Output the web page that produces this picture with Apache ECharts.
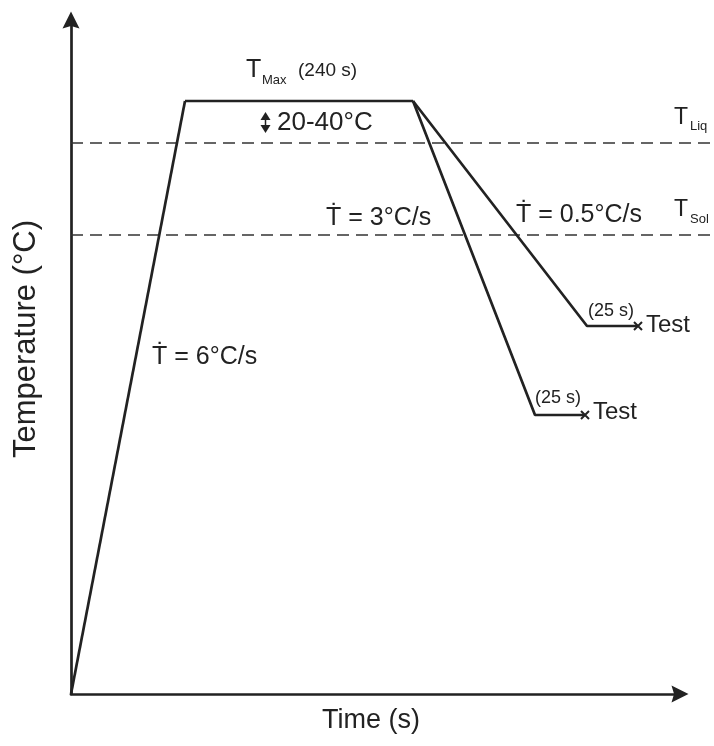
<!DOCTYPE html>
<html>
<head>
<meta charset="utf-8">
<script src="https://cdn.jsdelivr.net/npm/echarts@6/dist/echarts.min.js"></script>
<style>
  html, body { margin: 0; padding: 0; background: #fff; }
  #chart { width: 714px; height: 746px; }
</style>
</head>
<body>
<div id="chart"></div>
<script>
// Schematic thermal cycle (arbitrary time / temperature units, no ticks)
const rampUp   = [[0, 0], [114, 593]];              // heating at 6 °C/s
const holdMax  = [[114, 593], [342, 593]];          // hold at T_Max (240 s)
const coolFast = [[342, 593], [464, 279], [514, 279]]; // 3 °C/s then 25 s hold
const coolSlow = [[342, 593], [516, 368], [567, 368]]; // 0.5 °C/s then 25 s hold
const tLiq = 551;
const tSol = 459;
const xMax = 609;   // end of the drawn time axis
const xEnd = 643;   // reference lines run on to the edge
const yMax = 674;

const INK = '#222';
const FONT = '"Liberation Sans", Arial, sans-serif';
const crossMark = 'path://M0,0L10,10M10,0L0,10';
const arrowHead = 'path://M0,10L5,0L10,10L5,8.5Z';

function withEndMark(points) {
  return points.map((p, i) => i === points.length - 1
    ? { value: p, symbol: crossMark, symbolSize: 8,
        itemStyle: { color: 'none', borderColor: INK, borderWidth: 2 } }
    : { value: p, symbol: 'none' });
}

const solid = { color: INK, width: 2.7 };
const dashed = { color: '#333', width: 1.5, type: [12, 7] };

function txt(text, x, y, size, extra) {
  return {
    type: 'text', silent: true,
    style: Object.assign({
      text, x, y, fill: INK,
      font: size + 'px ' + FONT,
      align: 'left', verticalAlign: 'middle'
    }, extra || {})
  };
}

const hiddenAxis = { show: false };

const chart = echarts.init(document.getElementById('chart'));
chart.setOption({
  animation: false,
  backgroundColor: '#fff',
  grid: [
    { left: 71, right: 34, top: 20, bottom: 52 },
    { left: 71, right: 0, top: 20, bottom: 52 }
  ],
  xAxis: [
    {
      type: 'value', min: 0, max: xMax, gridIndex: 0,
      axisLine: { show: true, lineStyle: { color: INK, width: 2.7 },
        symbol: ['none', arrowHead], symbolSize: [17, 20] },
      axisTick: { show: false }, axisLabel: { show: false }, splitLine: { show: false }
    },
    Object.assign({ type: 'value', min: 0, max: xEnd, gridIndex: 1 }, hiddenAxis)
  ],
  yAxis: [
    {
      type: 'value', min: 0, max: yMax, gridIndex: 0,
      axisLine: { show: true, lineStyle: { color: INK, width: 2.7 },
        symbol: ['none', arrowHead], symbolSize: [17, 20] },
      axisTick: { show: false }, axisLabel: { show: false }, splitLine: { show: false }
    },
    Object.assign({ type: 'value', min: 0, max: yMax, gridIndex: 1 }, hiddenAxis)
  ],
  series: [
    { type: 'line', xAxisIndex: 1, yAxisIndex: 1, data: [[0, tLiq], [xEnd, tLiq]], symbol: 'none', lineStyle: dashed },
    { type: 'line', xAxisIndex: 1, yAxisIndex: 1, data: [[0, tSol], [xEnd, tSol]], symbol: 'none', lineStyle: dashed },
    { type: 'line', data: rampUp, symbol: 'none', lineStyle: solid },
    { type: 'line', data: holdMax, symbol: 'none', lineStyle: solid },
    { type: 'line', data: withEndMark(coolFast), showSymbol: true, clip: false, lineStyle: solid },
    { type: 'line', data: withEndMark(coolSlow), showSymbol: true, clip: false, lineStyle: solid }
  ],
  graphic: [
    // axis titles
    txt('Time (s)', 371, 721, 27, { align: 'center' }),
    { type: 'text', silent: true, x: 26, y: 339, rotation: Math.PI / 2,
      style: { text: 'Temperature (°C)', fill: INK, font: '31px ' + FONT,
               align: 'center', verticalAlign: 'middle' } },
    // T_Max (240 s)
    txt('T', 246, 70, 25),
    txt('Max', 262, 80, 13),
    txt('(240 s)', 298, 71, 19),
    // 20-40 °C band marker
    { type: 'polygon', silent: true, shape: { points: [[260.5, 120], [265.5, 112], [270.5, 120]] }, style: { fill: INK } },
    { type: 'polygon', silent: true, shape: { points: [[260.5, 125], [265.5, 133], [270.5, 125]] }, style: { fill: INK } },
    { type: 'line', silent: true, shape: { x1: 265.5, y1: 119, x2: 265.5, y2: 126 }, style: { stroke: INK, lineWidth: 1.5 } },
    txt('20-40°C', 277, 123, 26),
    // liquidus / solidus
    txt('T', 674, 118, 23),
    txt('Liq', 690, 126, 13),
    txt('T', 674, 210, 23),
    txt('Sol', 690, 219, 13),
    // rates
    txt('T\u0307 = 6°C/s', 152, 357, 25),
    txt('T\u0307 = 3°C/s', 326, 218, 25),
    txt('T\u0307 = 0.5°C/s', 516, 215, 25),
    // hold annotations
    txt('(25 s)', 588, 311, 18),
    txt('Test', 646, 325, 24),
    txt('(25 s)', 535, 398, 18),
    txt('Test', 593, 412, 24)
  ]
});
</script>
</body>
</html>
